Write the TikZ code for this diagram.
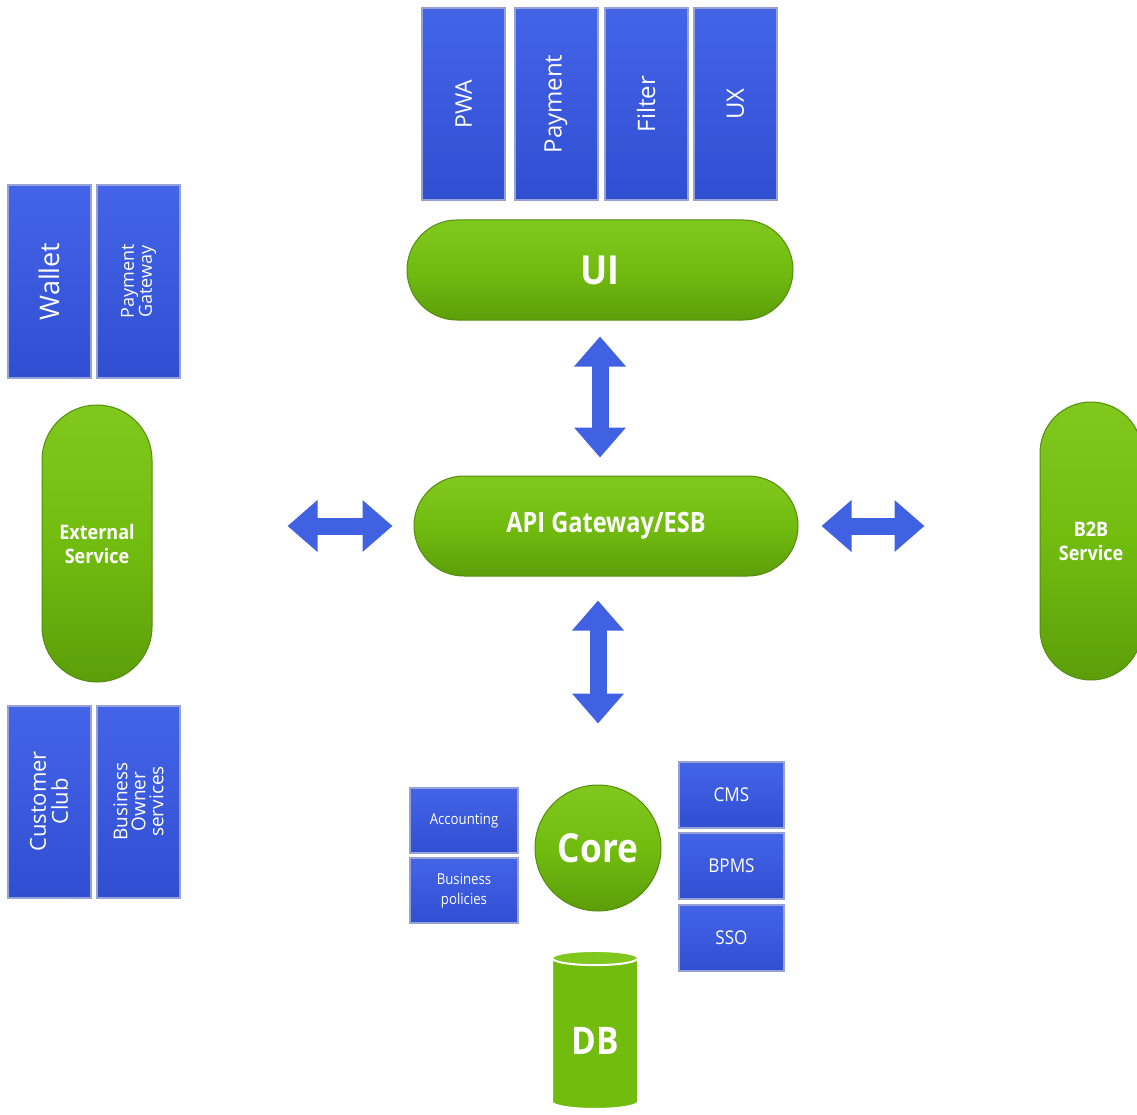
\documentclass[tikz,border=0pt]{standalone}
\usepackage{fontspec}
\setmainfont{Open Sans}
\usetikzlibrary{shapes.geometric,arrows.meta}
\definecolor{bluetop}{RGB}{68,100,232}
\definecolor{bluebot}{RGB}{48,78,208}
\definecolor{blueedge}{RGB}{150,162,212}
\definecolor{greentop}{RGB}{128,200,30}
\definecolor{greenmid}{RGB}{114,188,16}
\definecolor{greenbot}{RGB}{92,158,10}
\definecolor{greenrim}{RGB}{84,140,14}
\definecolor{arrowblue}{RGB}{64,98,226}
\newcommand{\fsz}[2]{\fontsize{#1}{#2}\selectfont}
\begin{document}
\begin{tikzpicture}[x=1pt,y=-1pt,
  bluebox/.style={rectangle, draw=blueedge, line width=2pt, top color=bluetop, bottom color=bluebot,
    text=white, align=center, inner sep=0pt},
  vbox/.style={bluebox, rotate=90, minimum width=192pt, minimum height=83pt},
  hbox/.style={bluebox, minimum width=#1, minimum height=66pt},
  pill/.style={rectangle, draw=greenrim, line width=1pt, top color=greentop, bottom color=greenbot,
    middle color=greenmid, text=white, align=center, font=\bfseries},
  fatarrow/.style={draw=arrowblue, line width=17pt,
    {Triangle[length=30pt,width=50pt]}-{Triangle[length=30pt,width=50pt]}}
]
\useasboundingbox (0,0) rectangle (1137,1115);
\clip (0,0) rectangle (1137,1115);

% top UI components
\node[vbox, font=\fsz{23}{26}] (pwa) at (463.5,104) {PWA};
\node[vbox, font=\fsz{24}{27}] (pay) at (556,104) {Payment};
\node[vbox, font=\fsz{24}{27}] (filter) at (646,104) {Filter};
\node[vbox, font=\fsz{24}{27}] (ux) at (735.5,104) {UX};

% UI pill
\node[pill, minimum width=386pt, minimum height=100pt, rounded corners=50pt, font=\bfseries\fsz{40}{44}] (ui) at (600,270) {\scalebox{0.9}[1]{UI}};

% API gateway
\node[pill, minimum width=384pt, minimum height=100pt, rounded corners=50pt, font=\bfseries\fsz{28}{30}] (api) at (606,526) {\scalebox{0.84}[1]{API Gateway/ESB}};

% external side
\node[vbox, font=\fsz{27}{30}] (wallet) at (49,281.5) {Wallet};
\node[vbox, font=\fsz{18}{18}] (pgw) at (138.5,281.5) {Payment\\Gateway};
\node[pill, minimum width=110pt, minimum height=277pt, rounded corners=55pt, font=\bfseries\fsz{20}{24}] (ext) at (97,543.5) {\scalebox{0.9}[1]{External}\\\scalebox{0.9}[1]{Service}};
\node[vbox, font=\fsz{22}{22}] (club) at (49,801.5) {Customer\\Club};
\node[vbox, font=\fsz{19}{18}] (bos) at (138.5,801.5) {Business\\Owner\\services};

% B2B
\node[pill, minimum width=102pt, minimum height=278pt, rounded corners=51pt, font=\bfseries\fsz{20}{24}] (b2b) at (1091,541) {\scalebox{0.9}[1]{B2B}\\\scalebox{0.9}[1]{Service}};

% core
\node[pill, circle, minimum size=126pt, inner sep=0pt, font=\bfseries\fsz{40}{44}] (core) at (598,848) {\scalebox{0.88}[1]{Core}};
\node[hbox=108pt, minimum height=65pt, font=\fsz{15}{19}] (acc) at (464,820.5) {\scalebox{0.88}[1]{Accounting}};
\node[hbox=108pt, minimum height=65pt, font=\fsz{15}{20}] (bp) at (464,890.5) {\scalebox{0.88}[1]{Business}\\\scalebox{0.88}[1]{policies}};
\node[hbox=105pt, font=\fsz{19}{22}] (cms) at (731.5,795) {\scalebox{0.9}[1]{CMS}};
\node[hbox=105pt, font=\fsz{19}{22}] (bpms) at (731.5,865.5) {\scalebox{0.9}[1]{BPMS}};
\node[hbox=105pt, font=\fsz{19}{22}] (sso) at (731.5,937.5) {\scalebox{0.9}[1]{SSO}};

% DB
\node[cylinder, shape border rotate=90, aspect=0.3, draw=white, line width=2pt,
  minimum width=86pt, minimum height=158pt, inner sep=0pt,
  cylinder uses custom fill, cylinder body fill=greenmid, cylinder end fill=greentop,
  text=white, font=\bfseries\fsz{38}{40}] (db) at (595,1034) {\raisebox{-20pt}[0pt][0pt]{\scalebox{0.88}[1]{DB}}};

% arrows
\draw[fatarrow, shorten <=16pt, shorten >=18pt] (ui.south) -- (ui.south |- api.north);
\draw[fatarrow, shorten <=24pt, shorten >=61pt] (api.south -| core.north) -- (core.north);
\draw[fatarrow, shorten <=21pt, shorten >=135pt] (api.west) -- (api.west -| ext.east);
\draw[fatarrow, shorten <=23pt, shorten >=115pt] (api.east) -- (api.east -| b2b.west);
\end{tikzpicture}
\end{document}
